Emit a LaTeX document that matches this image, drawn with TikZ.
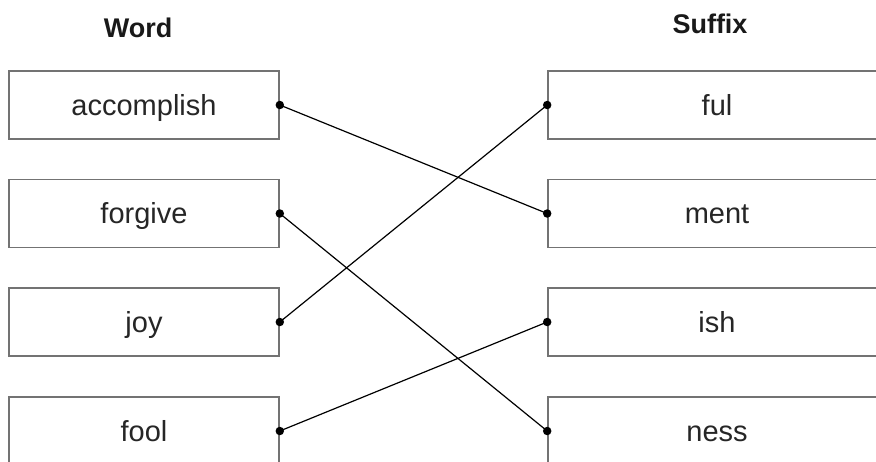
\documentclass[tikz,border=0pt]{standalone}
\usepackage{fontspec}
\setmainfont{Liberation Sans}
\begin{document}
\begin{tikzpicture}[x=1pt,y=-1pt,
  wordbox/.style={draw=black!55,line width=1.6pt,minimum width=270pt,minimum height=68pt,inner sep=0pt,text height=24pt,text depth=4pt,font=\fontsize{29}{33}\selectfont,text=black!85},
  sufbox/.style={wordbox,minimum width=338pt},
  title/.style={font=\bfseries\fontsize{27}{31}\selectfont,text=black!90},
  link/.style={line width=1.2pt,black},
  dot/.style={circle,fill=black,inner sep=0pt,minimum size=8.5pt}]
\useasboundingbox (0,0) rectangle (876,461);
\clip (0,0) rectangle (876,461);
\fill[white] (0,0) rectangle (876,461);
\node[title] (tw) at (138,28) {Word};
\node[title] (ts) at (710,24) {Suffix};
\node[wordbox] (w1) at (144,105) {accomplish};
\node[wordbox] (w2) at (144,213.5) {forgive};
\node[wordbox] (w3) at (144,322) {joy};
\node[wordbox] (w4) at (144,431) {fool};
\node[sufbox] (s1) at (717,105) {ful};
\node[sufbox] (s2) at (717,213.5) {ment};
\node[sufbox] (s3) at (717,322) {ish};
\node[sufbox] (s4) at (717,431) {ness};
\draw[link] (w1.east) -- (s2.west);
\draw[link] (w2.east) -- (s4.west);
\draw[link] (w3.east) -- (s1.west);
\draw[link] (w4.east) -- (s3.west);
\foreach \n in {w1,w2,w3,w4}{\node[dot] (d\n) at (\n.east) {};}
\foreach \n in {s1,s2,s3,s4}{\node[dot] (d\n) at (\n.west) {};}
\end{tikzpicture}
\end{document}
